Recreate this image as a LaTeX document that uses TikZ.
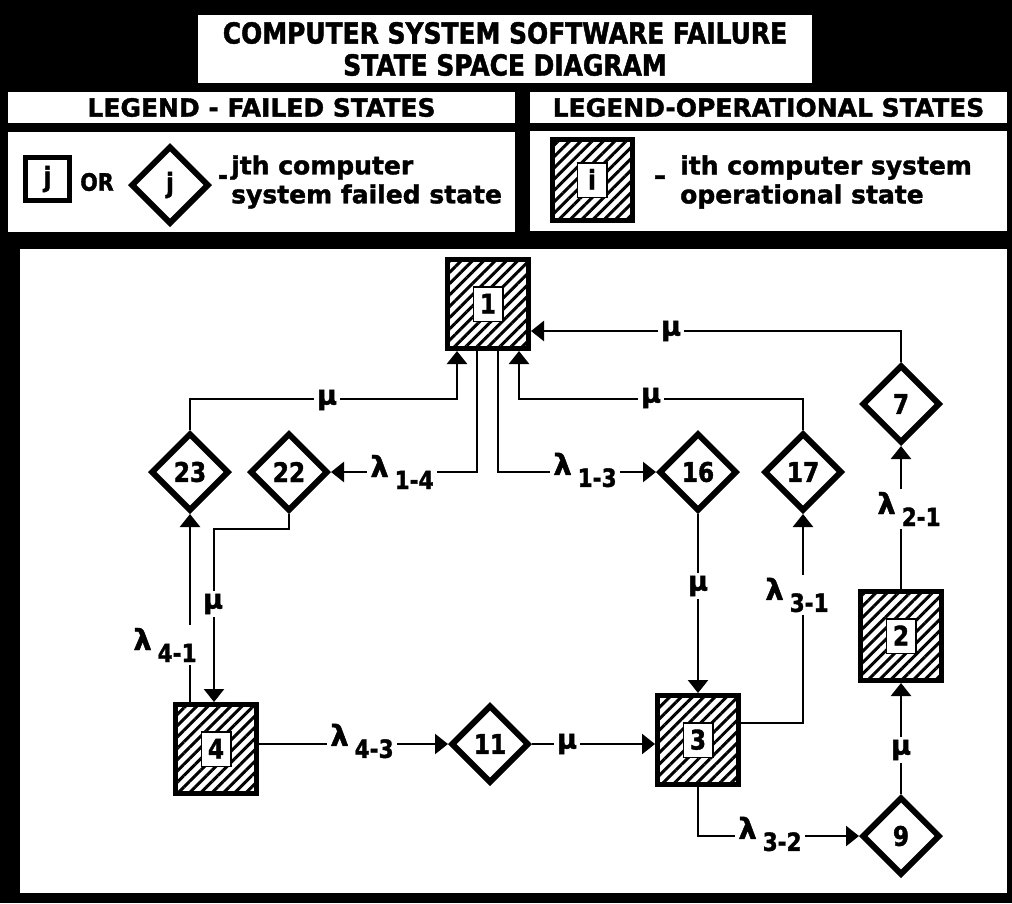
\documentclass[tikz,border=0pt]{standalone}
\usepackage{fontspec}
\setmainfont{DejaVu Sans}[BoldFeatures={FakeBold=1.5}]
\newfontfamily\nf{DejaVu Sans}[FakeStretch=0.86,BoldFeatures={FakeBold=1.5}]
\usetikzlibrary{shapes.geometric,arrows.meta,patterns.meta}
\newcommand\opnum[1]{{\setlength\fboxrule{1.5pt}\setlength\fboxsep{0pt}\fcolorbox{black}{white}{\makebox[28pt]{\rule[-7pt]{0pt}{33pt}#1}}}}
\newcommand\lamsub[1]{{\fontsize{29}{29}\selectfont λ}\hspace{6pt}\raisebox{-12pt}{\nf\bfseries\fontsize{25}{25}\selectfont #1}}
\begin{document}
\begin{tikzpicture}[x=1pt,y=-1pt,
  big/.style={font=\nf\bfseries\fontsize{27}{27}\selectfont},
  opbox/.style={big,draw,line width=5pt,minimum width=81pt,minimum height=89pt,inner sep=0pt,
    pattern={Lines[angle=45,distance=8pt,line width=3pt]}},
  fdia/.style={big,diamond,aspect=1,draw,line width=6pt,fill=white,minimum width=78pt,minimum height=78pt,inner sep=0pt},
  conn/.style={line width=2.5pt,-{Triangle[width=20pt,length=13pt]}},
  lab/.style={font=\bfseries\fontsize{27}{27}\selectfont,fill=white,inner sep=3pt},
  hdr/.style={fill=white,inner sep=0pt,font=\bfseries\fontsize{25}{25}\selectfont},
  legtxt/.style={anchor=west,align=left,inner sep=0pt,font=\bfseries\fontsize{25}{29}\selectfont}]
\useasboundingbox (0,0) rectangle (1012,903);
\fill[black] (0,0) rectangle (1012,903);
% title
\node[fill=white,minimum width=614pt,minimum height=68pt,align=center,inner sep=0pt,
  font=\nf\bfseries\fontsize{29}{32}\selectfont] (title) at (505,49)
  {COMPUTER SYSTEM SOFTWARE FAILURE\\STATE SPACE DIAGRAM};
% legend headers
\node[hdr,minimum width=507pt,minimum height=31pt] (hl) at (261.5,107.5) {LEGEND - FAILED STATES};
\node[hdr,minimum width=477pt,minimum height=31pt] (hr) at (768.5,107.5) {LEGEND-OPERATIONAL STATES};
% legend contents
\fill[white] (8,132) rectangle (515,232);
\fill[white] (530,131) rectangle (1007,231);
\node[big,draw,line width=5pt,fill=white,minimum width=44pt,minimum height=43pt,inner sep=0pt] (lj) at (47.5,179) {j};
\node[font=\nf\bfseries\fontsize{24}{24}\selectfont,inner sep=0pt] (lor) at (97,182) {OR};
\node[fdia] (ldj) at (170,185) {j};
\node[big,inner sep=0pt] (ldash) at (223,180) {-};
\node[legtxt] (ltxt) at (231,182) {jth computer\\system failed state};
\node[opbox,minimum width=80pt,minimum height=81pt] (li) at (592,180) {\opnum{i}};
\node[big,inner sep=0pt] (rdash) at (660,180) {–};
\node[legtxt] (rtxt) at (680,182) {ith computer system\\operational state};
% diagram panel
\fill[white] (20,249) rectangle (1007,893);
% states
\node[opbox] (n1) at (488,304) {\opnum{1}};
\node[opbox] (n2) at (901,636) {\opnum{2}};
\node[opbox] (n3) at (698,740) {\opnum{3}};
\node[opbox] (n4) at (216,749) {\opnum{4}};
\node[fdia] (d23) at (190,472) {23};
\node[fdia] (d22) at (289,472) {22};
\node[fdia] (d16) at (698,472) {16};
\node[fdia] (d17) at (803,472) {17};
\node[fdia] (d7) at (901,404) {7};
\node[fdia] (d11) at (490,744) {11};
\node[fdia] (d9) at (901,836) {9};
% connectors
\draw[conn] (d23.north) |- ([xshift=-31pt,yshift=-48pt]n1.south) -- ([xshift=-31pt]n1.south);
\draw[conn] ([xshift=-11pt]n1.south) |- (d22.east);
\draw[conn] ([xshift=10pt]n1.south) |- (d16.west);
\draw[conn] (d17.north) |- ([xshift=31pt,yshift=-48pt]n1.south) -- ([xshift=31pt]n1.south);
\draw[conn] (d7.north) |- ([yshift=-27pt]n1.east);
\draw[conn] (n2.north) -- (d7.south);
\draw[conn] (d9.north) -- (n2.south);
\draw[conn] (n3.south) |- (d9.west);
\draw[conn] ([yshift=17pt]n3.east) -| (d17.south);
\draw[conn] (d16.south) -- (n3.north);
\draw[conn] (d11.east) -- (n3.west |- d11.east);
\draw[conn] (n4.east |- d11.west) -- (d11.west);
\draw[conn] (n4.north -| d23.south) -- (d23.south);
\draw[conn] (d22.south) -- ++(0,15) -| ([xshift=-2pt]n4.north);
% labels
\node[lab] (ma) at (327,400) {μ};
\node[lab] (md) at (651,398) {μ};
\node[lab] (me) at (671,331) {μ};
\node[lab] (mg) at (901,750) {μ};
\node[lab] (mj) at (698,586) {μ};
\node[lab] (mk) at (567,744) {μ};
\node[lab] (mn) at (213,604) {μ};
\node[lab] (l14) at (402,472) {\lamsub{1-4}};
\node[lab] (l13) at (585,470) {\lamsub{1-3}};
\node[lab] (l21) at (909,509) {\lamsub{2-1}};
\node[lab] (l32) at (770,834) {\lamsub{3-2}};
\node[lab] (l31) at (797,595) {\lamsub{3-1}};
\node[lab] (l43) at (362,741) {\lamsub{4-3}};
\node[lab] (l41) at (165,645) {\lamsub{4-1}};
\end{tikzpicture}
\end{document}
